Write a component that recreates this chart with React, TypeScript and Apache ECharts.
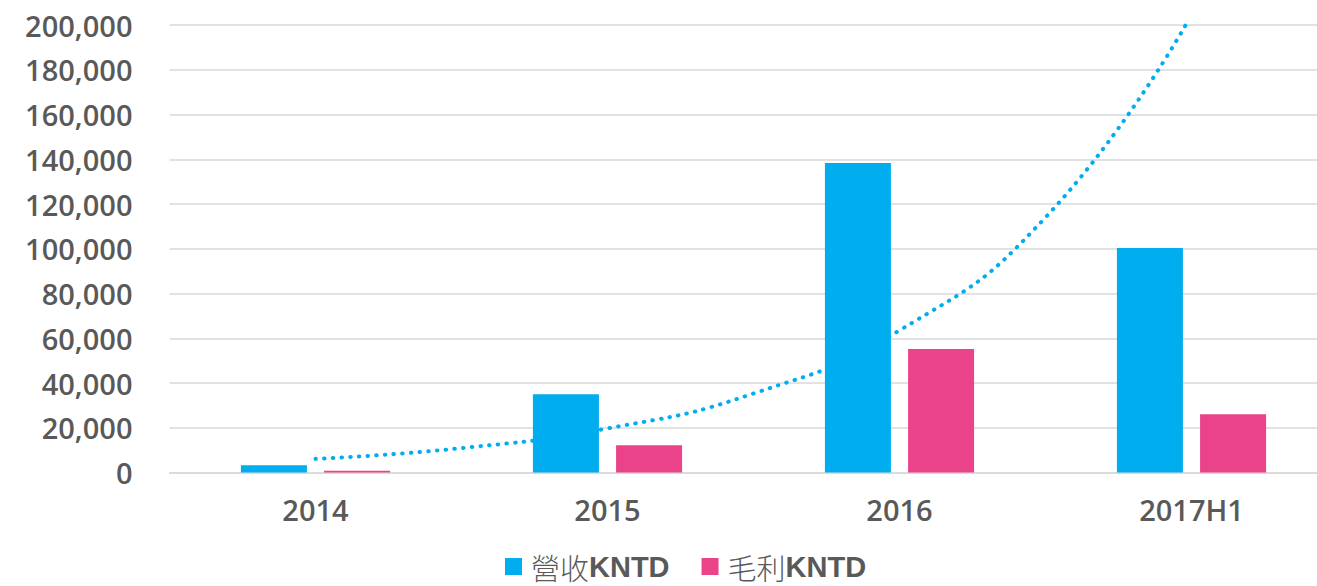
import React, { useEffect, useRef } from "react";
import * as echarts from "echarts";

const categories = ["2014", "2015", "2016", "2017H1"];
const revenue = [3200, 35000, 138300, 100300];
const grossProfit = [800, 12150, 55200, 26000];
// dotted trend line of 營收: [category position (1 = 2014), value]
const trendPoints: [number, number][] = [
  [1, 6100],
  [1.5, 10900],
  [2, 19700],
  [2.5, 35300],
  [3, 63500],
  [3.5, 114000],
  [3.98, 200000],
];
const yTicks = { min: 0, max: 200000, interval: 20000 };

const FONT = "'Open Sans', 'Liberation Sans', sans-serif";
const TEXT = "#595959";

export default function App() {
  const ref = useRef<HTMLDivElement>(null);
  useEffect(() => {
    if (!ref.current) return;
    const chart = echarts.init(ref.current, undefined, { renderer: "svg" });
    chart.setOption({
      animation: false,
      backgroundColor: "#ffffff",
      grid: {
        left: 169.5,
        right: -20.5,
        top: 25,
        bottom: 113.5,
        containLabel: false,
        outerBoundsMode: "none",
      },
      legend: {
        bottom: 0,
        left: 500,
        icon: "rect",
        itemWidth: 17,
        itemHeight: 17,
        itemGap: 32,
        data: ["營收KNTD", "毛利KNTD"],
        formatter: (name: string) => `{c|${name.slice(0, 2)}}{b|${name.slice(2)}}`,
        textStyle: {
          rich: {
            c: {
              fontFamily: "'Noto Sans CJK TC', sans-serif",
              fontSize: 29,
              fontWeight: 300,
              color: TEXT,
              padding: [0, 0, 0, 4],
            },
            b: {
              fontFamily: "'Liberation Sans', sans-serif",
              fontSize: 29,
              fontWeight: "bold",
              color: TEXT,
            },
          },
        },
      },
      xAxis: [
        {
          type: "category",
          data: categories,
          axisTick: { show: false },
          axisLine: { lineStyle: { color: "#D9D9D9", width: 1.5 } },
          axisLabel: {
            color: TEXT,
            fontFamily: FONT,
            fontSize: 29,
            fontWeight: 600,
            margin: 22,
          },
        },
        {
          type: "value",
          min: 0.5,
          max: 4.5,
          show: false,
          splitLine: { show: false },
        },
      ],
      yAxis: {
        type: "value",
        min: yTicks.min,
        max: yTicks.max,
        interval: yTicks.interval,
        axisLine: { show: false },
        axisTick: { show: false },
        splitLine: { lineStyle: { color: "#D9D9D9", width: 1.5 } },
        axisLabel: {
          color: TEXT,
          fontFamily: FONT,
          fontSize: 29,
          fontWeight: 600,
          margin: 37,
          formatter: (v: number) => v.toLocaleString("en-US"),
        },
      },
      series: [
        {
          name: "營收KNTD",
          type: "bar",
          data: revenue,
          barWidth: 66,
          barGap: "26%",
          itemStyle: { color: "#00AEEF" },
          z: 3,
        },
        {
          name: "毛利KNTD",
          type: "bar",
          data: grossProfit,
          barWidth: 66,
          barGap: "26%",
          itemStyle: { color: "#EA4389" },
          z: 3,
        },
        {
          name: "trend",
          type: "line",
          xAxisIndex: 1,
          data: trendPoints,
          smooth: true,
          showSymbol: false,
          silent: true,
          z: 1,
          lineStyle: {
            color: "#00AEEF",
            width: 4,
            type: [0.5, 8.2],
            cap: "round",
          },
        },
      ],
    });
    return () => chart.dispose();
  }, []);
  return (
    <div
      ref={ref}
      style={{ position: "fixed", left: 0, top: 0, width: 1317, height: 586 }}
    />
  );
}
